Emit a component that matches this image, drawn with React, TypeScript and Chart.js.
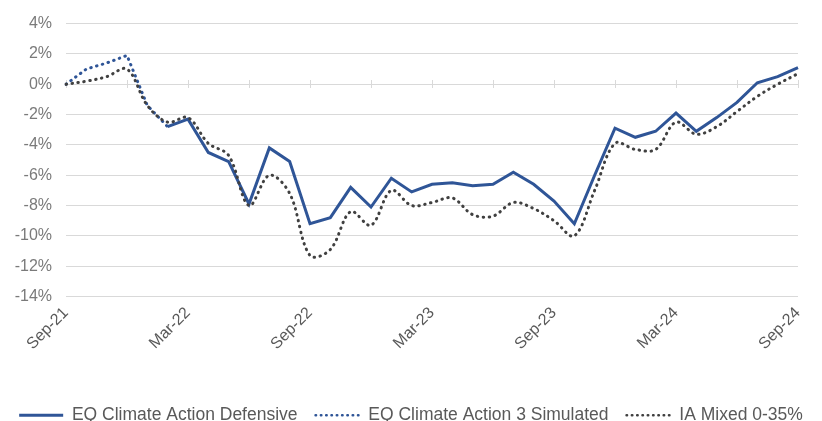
import React, { useEffect, useRef } from "react";
import { Chart, registerables } from "chart.js";

Chart.register(...registerables);

const months: string[] = [
  "Sep-21", "Oct-21", "Nov-21", "Dec-21", "Jan-22", "Feb-22", "Mar-22", "Apr-22", "May-22", "Jun-22",
  "Jul-22", "Aug-22", "Sep-22", "Oct-22", "Nov-22", "Dec-22", "Jan-23", "Feb-23", "Mar-23", "Apr-23",
  "May-23", "Jun-23", "Jul-23", "Aug-23", "Sep-23", "Oct-23", "Nov-23", "Dec-23", "Jan-24", "Feb-24",
  "Mar-24", "Apr-24", "May-24", "Jun-24", "Jul-24", "Aug-24", "Sep-24",
];

const defensive: (number | null)[] = [
  null, null, null, null, null, -2.8, -2.3, -4.5, -5.1, -7.9,
  -4.2, -5.1, -9.2, -8.8, -6.8, -8.1, -6.2, -7.1, -6.6, -6.5,
  -6.7, -6.6, -5.8, -6.6, -7.7, -9.2, -6.0, -2.9, -3.5, -3.1,
  -1.9, -3.1, -2.2, -1.2, 0.1, 0.5, 1.1,
];

const simulated: (number | null)[] = [
  0, 1.0, 1.4, 1.9, -1.4, -2.8, null, null, null, null,
  null, null, null, null, null, null, null, null, null, null,
  null, null, null, null, null, null, null, null, null, null,
  null, null, null, null, null, null, null,
];

const iaMixed: number[] = [
  0, 0.2, 0.5, 1.0, -1.4, -2.5, -2.2, -3.9, -4.7, -8.0,
  -6.0, -7.2, -11.3, -10.9, -8.4, -9.3, -7.0, -8.0, -7.8, -7.5,
  -8.6, -8.7, -7.8, -8.2, -9.0, -10.0, -7.0, -3.9, -4.3, -4.3,
  -2.5, -3.3, -2.8, -1.8, -0.8, 0.0, 0.7,
];

const seriesNames: string[] = ["EQ Climate Action Defensive", "EQ Climate Action 3 Simulated", "IA Mixed 0-35%"];
const yMin = -14;
const yMax = 4;
const yStep = 2;

const BLUE = "#2f5597";
const DARK = "#404040";
const GRID = "#d9d9d9";
const FONT = "'Liberation Sans', Arial, sans-serif";
const DOTS = [0.5, 5.5];

const axisTicksPlugin = {
  id: "axisTicks",
  beforeDatasetsDraw(chart: any) {
    const x = chart.scales.x;
    const y = chart.scales.y;
    const y0 = Math.round(y.getPixelForValue(0));
    const ctx = chart.ctx;
    ctx.save();
    ctx.strokeStyle = GRID;
    ctx.lineWidth = 1;
    ctx.beginPath();
    for (let i = 0; i < months.length; i += 3) {
      const px = Math.round(x.getPixelForValue(i)) + 0.5;
      ctx.moveTo(px, y0 - 4);
      ctx.lineTo(px, y0 + 4);
    }
    ctx.stroke();
    ctx.restore();
  },
};

export default function App() {
  const ref = useRef<HTMLCanvasElement | null>(null);
  useEffect(() => {
    if (!ref.current) return;
    const chart = new Chart(ref.current, {
      type: "line",
      data: {
        labels: months,
        datasets: [
          {
            label: seriesNames[0],
            data: defensive,
            borderColor: BLUE,
            backgroundColor: BLUE,
            borderWidth: 3,
            pointRadius: 0,
            tension: 0,
            order: 1,
          },
          {
            label: seriesNames[1],
            data: simulated,
            borderColor: BLUE,
            backgroundColor: BLUE,
            borderWidth: 3,
            borderDash: DOTS,
            borderCapStyle: "round",
            pointRadius: 0,
            tension: 0,
            order: 2,
          },
          {
            label: seriesNames[2],
            data: iaMixed,
            borderColor: DARK,
            backgroundColor: DARK,
            borderWidth: 3,
            borderDash: DOTS,
            borderCapStyle: "round",
            pointRadius: 0,
            tension: 0.35,
            order: 0,
          },
        ],
      },
      options: {
        animation: false,
        responsive: true,
        maintainAspectRatio: false,
        layout: { padding: { left: 0, right: 0, top: 19, bottom: -13 } },
        plugins: {
          tooltip: { enabled: false },
          legend: {
            position: "bottom",
            labels: {
              sort: (a: any, b: any) => a.datasetIndex - b.datasetIndex,
              usePointStyle: true,
              pointStyle: "line",
              pointStyleWidth: 44,
              boxWidth: 44,
              boxHeight: 17,
              padding: 18,
              color: "#595959",
              font: { family: FONT, size: 17.5 },
              generateLabels: (c: any) =>
                Chart.defaults.plugins.legend.labels.generateLabels(c).map((item: any) => {
                  const ds: any = c.data.datasets[item.datasetIndex];
                  const dotted = !!ds.borderDash;
                  return {
                    ...item,
                    strokeStyle: ds.borderColor,
                    lineWidth: dotted ? 2.5 : 3,
                    lineDash: dotted ? [0.5, 4.8] : [],
                    lineCap: dotted ? "round" : "butt",
                  };
                }),
            },
          },
        },
        scales: {
          x: {
            type: "category",
            offset: false,
            grid: { display: false, drawTicks: false },
            border: { display: false },
            afterFit: (s: any) => {
              s.height = 92;
            },
            ticks: {
              autoSkip: false,
              maxRotation: 45,
              minRotation: 45,
              padding: 7,
              color: "#595959",
              font: { family: FONT, size: 16 },
              callback: (_v: any, i: number) => (i % 6 === 0 ? months[i] : ""),
            },
          },
          y: {
            min: yMin,
            max: yMax,
            grid: { color: GRID, drawTicks: false, lineWidth: 1 },
            border: { display: false },
            afterFit: (s: any) => {
              s.width = 66;
            },
            ticks: {
              stepSize: yStep,
              padding: 14,
              color: "#7a7a7a",
              font: { family: FONT, size: 16 },
              callback: (v: any) => `${v}%`,
            },
          },
          yRight: {
            position: "right",
            display: true,
            grid: { display: false, drawOnChartArea: false, drawTicks: false },
            border: { display: false },
            ticks: { display: false },
            afterFit: (s: any) => {
              s.width = 24;
            },
          },
        },
      },
      plugins: [axisTicksPlugin],
    });
    return () => chart.destroy();
  }, []);
  return (
    <div style={{ position: "fixed", left: 0, top: 0, width: 822, height: 421 }}>
      <canvas ref={ref} />
    </div>
  );
}
